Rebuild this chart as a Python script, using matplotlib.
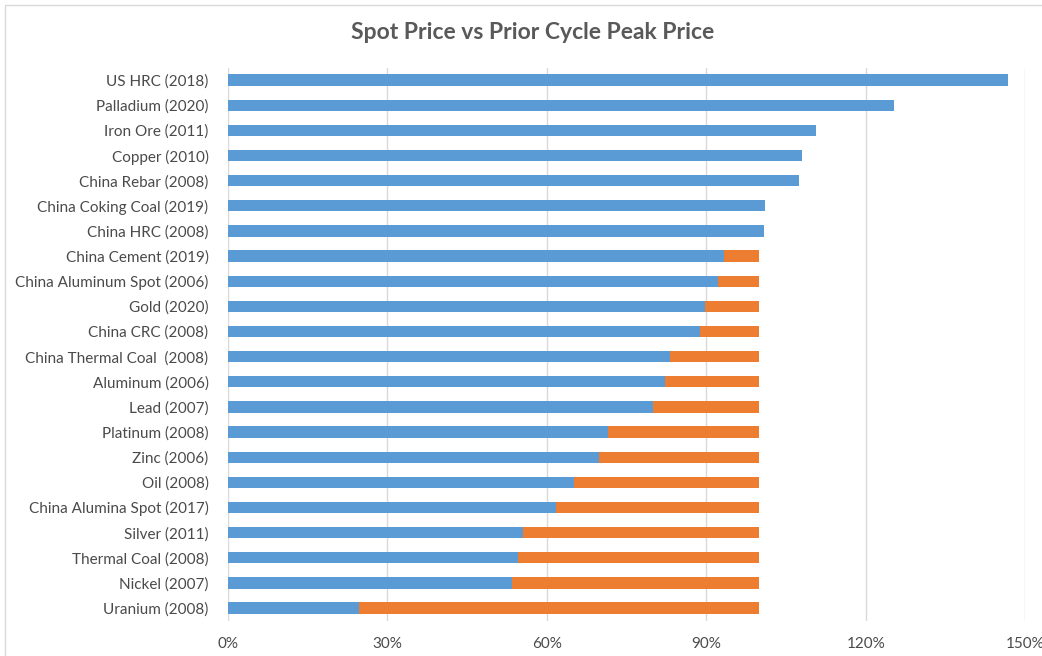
import matplotlib.pyplot as plt
from matplotlib.ticker import PercentFormatter

# categories from top to bottom
labels = [
    "US HRC (2018)", "Palladium (2020)", "Iron Ore (2011)", "Copper (2010)",
    "China Rebar (2008)", "China Coking Coal (2019)", "China HRC (2008)",
    "China Cement (2019)", "China Aluminum Spot (2006)", "Gold (2020)",
    "China CRC (2008)", "China Thermal Coal  (2008)", "Aluminum (2006)",
    "Lead (2007)", "Platinum (2008)", "Zinc (2006)", "Oil (2008)",
    "China Alumina Spot (2017)", "Silver (2011)", "Thermal Coal (2008)",
    "Nickel (2007)", "Uranium (2008)",
]
spot_pct = [146.8, 125.4, 110.6, 108.1, 107.5, 101.1, 100.9, 93.4, 92.2, 89.8,
            88.8, 83.2, 82.3, 80.0, 71.5, 69.8, 65.1, 61.7, 55.5, 54.6, 53.5, 24.7]
# gap to prior peak (fills up to 100%)
gap_pct = [max(0.0, 100.0 - v) for v in spot_pct]

ticks = [0, 30, 60, 90, 120, 150]

plt.rcParams['font.family'] = ['Lato', 'DejaVu Sans']

fig = plt.figure(figsize=(10.42, 6.56), dpi=100)
ax = fig.add_axes([0.2188, 0.054, 0.765, 0.843])

y = list(range(len(labels)))
ax.barh(y, spot_pct, height=0.45, color='#5B9BD5')
ax.barh(y, gap_pct, left=spot_pct, height=0.45, color='#ED7D31')

ax.set_ylim(len(labels) - 0.5, -0.5)
ax.set_xlim(0, 150)
ax.set_xticks(ticks)
ax.xaxis.set_major_formatter(PercentFormatter(decimals=0))
ax.set_yticks(y)
ax.set_yticklabels(labels)

ax.grid(axis='x', color='#D9D9D9', linewidth=1)
ax.set_axisbelow(True)
for s in ax.spines.values():
    s.set_visible(False)
ax.tick_params(length=0, labelsize=11, colors='#4a4a4a')
ax.tick_params(axis='x', pad=12)
ax.tick_params(axis='y', pad=14)

fig.text(0.511, 0.950, "Spot Price vs Prior Cycle Peak Price", ha='center', va='center',
         fontsize=16.5, fontweight='bold', color='#595959')

# light frame around the chart
fig.patches.append(plt.Rectangle((0.005, -0.01), 1.2, 1.002, transform=fig.transFigure,
                                 fill=False, edgecolor='#D9D9D9', linewidth=1))

fig.savefig("out.png", dpi=100)
